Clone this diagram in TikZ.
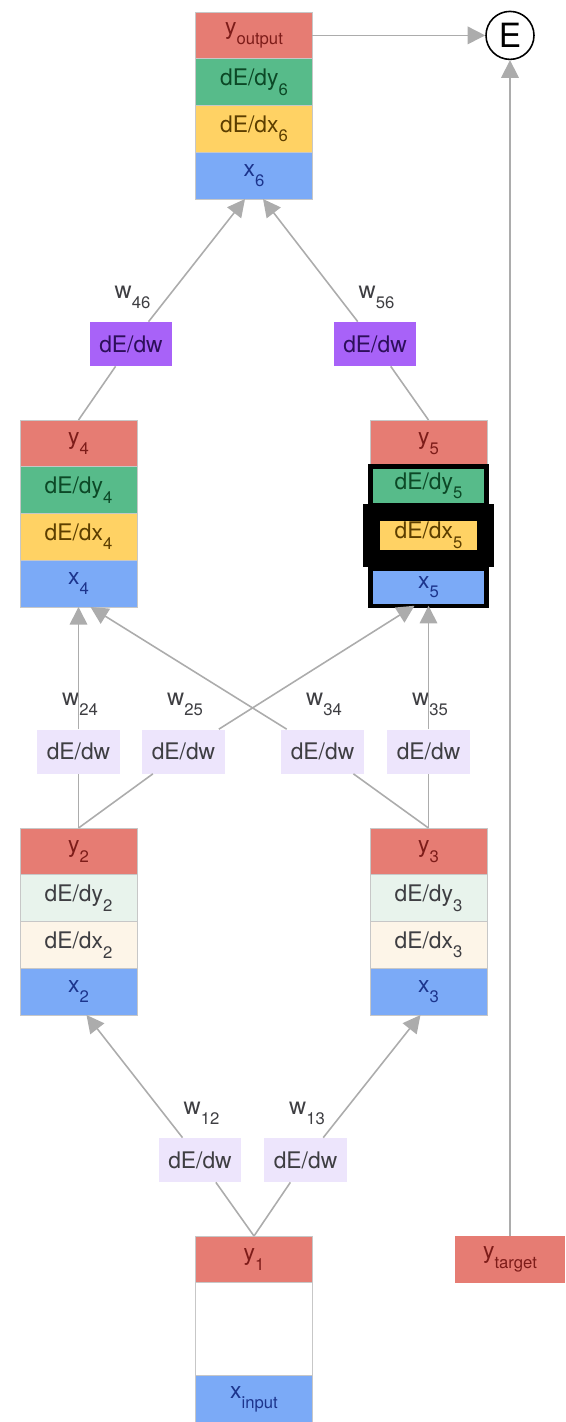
\documentclass[tikz,border=0pt]{standalone}
\usepackage{fontspec}
\setmainfont{TeX Gyre Heros}
\usetikzlibrary{arrows.meta,positioning}
\definecolor{cellred}{RGB}{230,124,115}
\definecolor{cellgreen}{RGB}{87,187,138}
\definecolor{cellyellow}{RGB}{255,210,100}
\definecolor{cellblue}{RGB}{123,170,247}
\definecolor{palegreen}{RGB}{232,243,236}
\definecolor{paleyellow}{RGB}{253,245,232}
\definecolor{wpurple}{RGB}{168,98,248}
\definecolor{wlilac}{RGB}{237,229,252}
\definecolor{linkgray}{RGB}{172,172,172}
\definecolor{txtred}{RGB}{125,28,25}
\definecolor{txtgreen}{RGB}{12,72,38}
\definecolor{txtyellow}{RGB}{92,62,0}
\definecolor{txtblue}{RGB}{28,52,140}
\definecolor{txtgray}{RGB}{62,62,66}
\definecolor{txtpurple}{RGB}{45,15,90}
\newcommand{\lsub}[1]{\raisebox{-0.8ex}{\fontsize{9.5}{10}\selectfont #1}}
\tikzset{
  cell/.style={
    minimum width=2.34cm,
    minimum height=0.935cm,
    inner sep=0pt,
    outer sep=0pt,
    draw=black!22,
    line width=0.4pt,
    font=\fontsize{13}{15}\selectfont
  },
  yrow/.style={cell, fill=cellred, text=txtred},
  dyrow/.style={cell, fill=cellgreen, text=txtgreen},
  dxrow/.style={cell, fill=cellyellow, text=txtyellow},
  xrow/.style={cell, fill=cellblue, text=txtblue},
  dyfaint/.style={cell, fill=palegreen, text=txtgray},
  dxfaint/.style={cell, fill=paleyellow, text=txtgray},
  marked/.style={draw=black, line width=#1},
  wbox/.style={
    minimum width=1.66cm,
    minimum height=0.88cm,
    inner sep=0pt,
    fill=wlilac,
    text=txtgray,
    font=\fontsize{13}{15}\selectfont
  },
  wboxhot/.style={wbox, fill=wpurple, text=txtpurple},
  wlabel/.style={text=txtgray, font=\fontsize{13.5}{15}\selectfont},
  link/.style={draw=linkgray, line width=0.9pt},
  flow/.style={link, -{Triangle[length=10pt,width=10pt]}}
}

\begin{document}
\begin{tikzpicture}[x=0.02cm, y=-0.02cm]
  \useasboundingbox (0,0) rectangle (565,1422);
  % output neuron and error
  \node[yrow] (n6y) at (254,35.4) {y\lsub{output}};
  \node[dyrow, below=0pt of n6y] (n6dy) {dE/dy\lsub{6}};
  \node[dxrow, below=0pt of n6dy] (n6dx) {dE/dx\lsub{6}};
  \node[xrow, below=0pt of n6dx] (n6x) {x\lsub{6}};
  \node[circle, draw=black, line width=0.9pt, minimum size=0.96cm, inner sep=0pt,
    font=\fontsize{19}{19}\selectfont] (err) at (510,35.4) {E};
  % hidden layer two
  \node[yrow] (n4y) at (78.5,443.4) {y\lsub{4}};
  \node[dyrow, below=0pt of n4y] (n4dy) {dE/dy\lsub{4}};
  \node[dxrow, below=0pt of n4dy] (n4dx) {dE/dx\lsub{4}};
  \node[xrow, below=0pt of n4dx] (n4x) {x\lsub{4}};
  \node[yrow] (n5y) at (428.5,443.4) {y\lsub{5}};
  \node[dyrow, marked=0.1cm, minimum width=2.34cm, minimum height=0.78cm] (n5dy)
    at (428.5,486) {dE/dy\lsub{5}};
  \node[xrow, marked=0.09cm, minimum width=2.33cm, minimum height=0.75cm] (n5x)
    at (428.5,587) {x\lsub{5}};
  \node[dxrow, marked=0.34cm, minimum width=2.3cm, minimum height=0.92cm] (n5dx)
    at (428.5,535.5) {dE/dx\lsub{5}};
  % hidden layer one
  \node[yrow] (n2y) at (78.5,851.4) {y\lsub{2}};
  \node[dyfaint, below=0pt of n2y] (n2dy) {dE/dy\lsub{2}};
  \node[dxfaint, below=0pt of n2dy] (n2dx) {dE/dx\lsub{2}};
  \node[xrow, below=0pt of n2dx] (n2x) {x\lsub{2}};
  \node[yrow] (n3y) at (428.5,851.4) {y\lsub{3}};
  \node[dyfaint, below=0pt of n3y] (n3dy) {dE/dy\lsub{3}};
  \node[dxfaint, below=0pt of n3dy] (n3dx) {dE/dx\lsub{3}};
  \node[xrow, below=0pt of n3dx] (n3x) {x\lsub{3}};
  % input neuron and target
  \node[yrow] (n1y) at (254,1259.4) {y\lsub{1}};
  \node[cell, fill=white, minimum height=1.86cm, below=0pt of n1y] (n1mid) {};
  \node[xrow, below=0pt of n1mid] (n1x) {x\lsub{input}};
  \node[yrow, draw=none, minimum width=2.2cm] (ytarget) at (510,1259.4) {y\lsub{target}};
  % weights
  \foreach \nm/\x/\y/\sty in {46/131/344/wboxhot, 56/375/344/wboxhot,
      24/78.5/751.5/wbox, 25/183.5/751.5/wbox, 34/322.5/751.5/wbox,
      35/428.5/751.5/wbox, 12/200/1160/wbox, 13/305.5/1160/wbox} {
    \node[\sty] (b\nm) at (\x,\y) {dE/dw};
    \node[wlabel] (w\nm) at ([xshift=0.03cm, yshift=0.94cm]b\nm) {w\lsub{\nm}};
  }
  % connections
  \draw[flow] (n6y) -- (err);
  \draw[flow] (ytarget) -- (err);
  \draw[link] (n4y.north) -- (b46);
  \draw[flow] (b46) -- ([xshift=-0.18cm]n6x.south);
  \draw[link] (n5y.north) -- (b56);
  \draw[flow] (b56) -- ([xshift=0.18cm]n6x.south);
  \draw[link] (n2y.north) -- (b24);
  \draw[flow] (b24) -- (n4x.south);
  \draw[link] (n2y.north) -- (b25);
  \draw[flow] (b25) -- ([xshift=-0.28cm]n5x.south);
  \draw[link] (n3y.north) -- (b34);
  \draw[flow] (b34) -- ([xshift=0.24cm]n4x.south);
  \draw[link] (n3y.north) -- (b35);
  \draw[flow] (b35) -- (n5x.south);
  \draw[link] (n1y.north) -- (b12);
  \draw[flow] (b12) -- ([xshift=0.16cm]n2x.south);
  \draw[link] (n1y.north) -- (b13);
  \draw[flow] (b13) -- ([xshift=-0.16cm]n3x.south);
\end{tikzpicture}
\end{document}
